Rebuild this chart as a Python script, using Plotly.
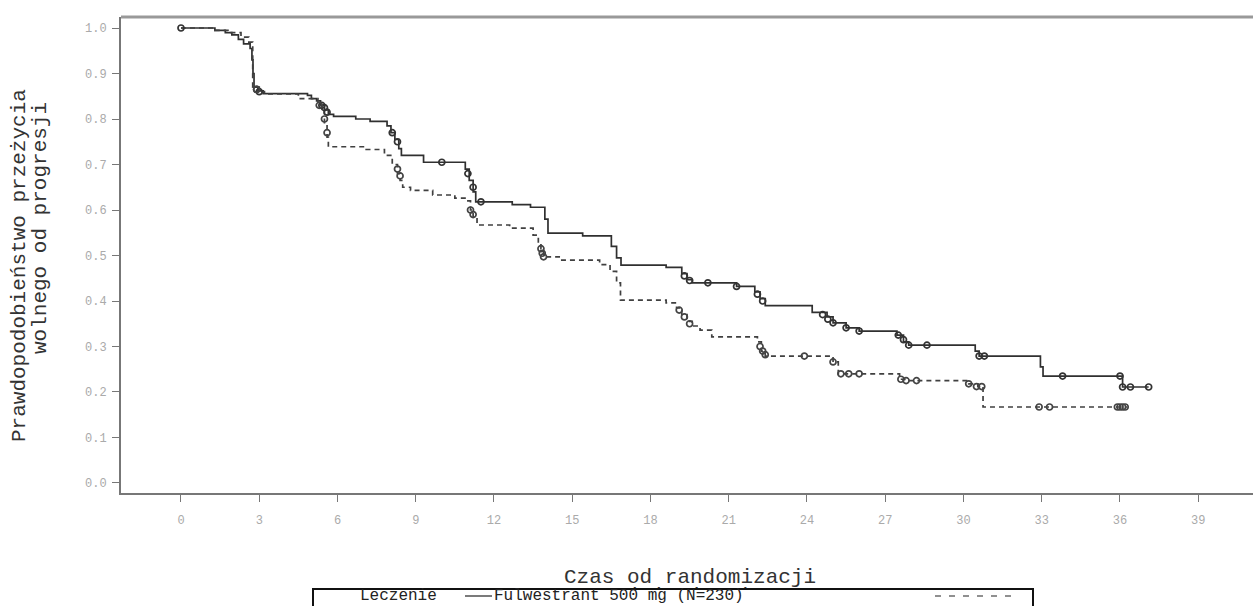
import plotly.graph_objects as go

# ---- Data (digitised Kaplan-Meier step knots) ----
solid_t = [0, 1.3, 1.7, 1.95, 2.2, 2.4, 2.65, 2.72, 2.76, 2.8, 2.95, 3.15, 4.85, 5.0, 5.2, 5.35, 5.5, 5.65,
           5.85, 6.7, 7.25, 7.9, 8.05, 8.2, 8.35, 8.45, 9.3, 10.9, 11.05, 11.2, 11.3, 12.7, 13.4, 13.95,
           14.07, 15.4, 16.5, 16.7, 16.87, 18.6, 19.2, 19.4, 19.6, 21.3, 22.0, 22.2, 22.4, 24.2, 24.77,
           25.0, 25.5, 26.0, 27.45, 27.7, 27.9, 30.45, 30.6, 32.95, 33.05, 36.1, 37.1]
solid_s = [1.0, 0.995, 0.99, 0.985, 0.975, 0.965, 0.955, 0.93, 0.9, 0.87, 0.862, 0.856, 0.852, 0.845, 0.84,
           0.83, 0.82, 0.81, 0.806, 0.80, 0.795, 0.785, 0.77, 0.755, 0.735, 0.72, 0.705, 0.69, 0.665, 0.64,
           0.618, 0.612, 0.606, 0.58, 0.549, 0.543, 0.52, 0.495, 0.479, 0.474, 0.46, 0.447, 0.44, 0.432,
           0.42, 0.405, 0.39, 0.375, 0.365, 0.352, 0.341, 0.334, 0.325, 0.31, 0.303, 0.29, 0.279, 0.255,
           0.235, 0.211, 0.211]
solid_cens_t = [0, 2.9, 3.0, 5.4, 5.5, 5.6, 8.1, 8.3, 10.0, 11.0, 11.2, 11.5, 19.3, 19.5, 20.2, 21.3, 22.1,
                22.3, 24.6, 24.8, 25.0, 25.5, 26.0, 27.5, 27.7, 27.9, 28.6, 30.6, 30.8, 33.8, 36.0, 36.1,
                36.4, 37.1]
solid_cens_s = [1.0, 0.865, 0.86, 0.83, 0.825, 0.815, 0.77, 0.75, 0.705, 0.68, 0.65, 0.618, 0.455, 0.445,
                0.44, 0.432, 0.415, 0.4, 0.37, 0.36, 0.352, 0.341, 0.334, 0.325, 0.315, 0.303, 0.303,
                0.279, 0.279, 0.235, 0.235, 0.211, 0.211, 0.211]

dash_t = [0, 1.3, 1.8, 2.3, 2.6, 2.75, 3.0, 3.2, 4.5, 5.25, 5.4, 5.5, 5.6, 5.65, 7.1, 7.8, 8.1, 8.3, 8.4,
          8.5, 8.8, 9.65, 10.5, 11.0, 11.1, 11.2, 11.35, 12.6, 13.5, 13.7, 13.8, 13.9, 14.5, 16.05, 16.45,
          16.7, 16.85, 18.6, 19.0, 19.2, 19.4, 19.6, 19.9, 20.35, 22.1, 22.25, 22.4, 25.0, 25.2, 27.55,
          27.75, 30.2, 30.55, 30.75, 36.27]
dash_s = [1.0, 0.995, 0.99, 0.98, 0.969, 0.87, 0.86, 0.855, 0.845, 0.83, 0.82, 0.79, 0.76, 0.739, 0.733,
          0.72, 0.70, 0.68, 0.665, 0.65, 0.643, 0.633, 0.626, 0.62, 0.60, 0.585, 0.567, 0.56, 0.545, 0.53,
          0.515, 0.497, 0.49, 0.48, 0.465, 0.44, 0.402, 0.396, 0.385, 0.37, 0.355, 0.345, 0.336, 0.321,
          0.31, 0.29, 0.279, 0.266, 0.24, 0.228, 0.225, 0.218, 0.212, 0.167, 0.167]
dash_cens_t = [2.9, 5.3, 5.5, 5.6, 8.3, 8.4, 11.1, 11.2, 13.8, 13.85, 13.9, 19.1, 19.3, 19.5, 22.2, 22.3,
               22.4, 23.9, 25.0, 25.3, 25.6, 26.0, 27.6, 27.8, 28.2, 30.2, 30.5, 30.7, 32.9, 33.3, 35.9,
               36.0, 36.1, 36.2]
dash_cens_s = [0.865, 0.83, 0.8, 0.77, 0.69, 0.675, 0.6, 0.59, 0.515, 0.505, 0.497, 0.38, 0.365, 0.35,
               0.3, 0.29, 0.282, 0.279, 0.266, 0.24, 0.24, 0.24, 0.228, 0.225, 0.225, 0.218, 0.212, 0.212,
               0.167, 0.167, 0.167, 0.167, 0.167, 0.167]

x_ticks = [0, 3, 6, 9, 12, 15, 18, 21, 24, 27, 30, 33, 36, 39]
y_ticks = [0.0, 0.1, 0.2, 0.3, 0.4, 0.5, 0.6, 0.7, 0.8, 0.9, 1.0]

y_title_1 = "Prawdopodobieństwo przeżycia"
y_title_2 = "wolnego od progresji"
x_title_1 = "Czas od randomizacji"
x_title_2 = "(miesiące)"
legend_title = "Leczenie"
legend_solid = "Fulwestrant 500 mg (N=230)"

FONT = "Liberation Mono, Courier New, monospace"
W, H = 1253, 606
L, T = 121, 17
AXIS_BOTTOM = 493  # pixel row of the x axis line
Y_DOMAIN_LOW = (H - AXIS_BOTTOM) / (H - T)

def px_x(p):
    return (p - L) / (W - L)

def px_y(p):
    return (H - p) / (H - T)

fig = go.Figure()
fig.add_trace(go.Scatter(x=solid_t, y=solid_s, mode="lines", line_shape="hv",
                         line=dict(color="#303030", width=1.7), showlegend=False, hoverinfo="skip"))
fig.add_trace(go.Scatter(x=dash_t, y=dash_s, mode="lines", line_shape="hv",
                         line=dict(color="#404040", width=1.7, dash="5px,4px"), showlegend=False,
                         hoverinfo="skip"))
fig.add_trace(go.Scatter(x=solid_cens_t, y=solid_cens_s, mode="markers",
                         marker=dict(symbol="circle-open", size=6, color="#333333",
                                     line=dict(color="#333333", width=1.7)),
                         showlegend=False, hoverinfo="skip"))
fig.add_trace(go.Scatter(x=dash_cens_t, y=dash_cens_s, mode="markers",
                         marker=dict(symbol="circle-open", size=6, color="#444444",
                                     line=dict(color="#444444", width=1.7)),
                         showlegend=False, hoverinfo="skip"))
# second line of the x title, in a pixel-mapped helper subplot so the legend box can cover it
fig.add_trace(go.Scatter(x=[690], y=[597], mode="text", text=[x_title_2], xaxis="x2", yaxis="y2",
                         textfont=dict(family=FONT, size=21, color="#333333"), cliponaxis=False,
                         showlegend=False, hoverinfo="skip"))

fig.update_layout(
    width=W, height=H,
    margin=dict(l=L, r=0, t=T, b=0, pad=0),
    paper_bgcolor="white", plot_bgcolor="rgba(0,0,0,0)",
    font=dict(family=FONT, color="#333333"),
    xaxis=dict(range=[-2.30, 41.10], tickvals=x_ticks, ticktext=[str(v) for v in x_ticks],
               domain=[0, 1], anchor="y",
               showgrid=False, zeroline=False, showline=True, linecolor="#777777", linewidth=2,
               ticks="outside", ticklen=7, tickcolor="#777777", tickwidth=1,
               tickfont=dict(family=FONT, size=12, color="#aaaaaa"), ticklabelstandoff=8),
    yaxis=dict(range=[-0.022, 1.0242], tickvals=y_ticks, ticktext=[f"{v:.1f}" for v in y_ticks],
               domain=[Y_DOMAIN_LOW, 1], anchor="x",
               showgrid=False, zeroline=False, showline=True, linecolor="#777777", linewidth=2,
               ticks="outside", ticklen=7, tickcolor="#777777", tickwidth=1,
               tickfont=dict(family=FONT, size=12, color="#aaaaaa"), ticklabelstandoff=3),
    xaxis2=dict(range=[L, W], domain=[0, 1], anchor="y2", visible=False, fixedrange=True),
    yaxis2=dict(range=[H, T], domain=[0, 1], anchor="x2", visible=False, fixedrange=True),
)

shapes = []
# top frame line
shapes.append(dict(type="line", xref="paper", yref="paper", x0=0, x1=1, y0=1, y1=1,
                   line=dict(color="#999999", width=3)))
# legend box
shapes.append(dict(type="rect", xref="paper", yref="paper", x0=px_x(313), x1=px_x(1033),
                   y0=px_y(625), y1=px_y(589), fillcolor="white", line=dict(color="#111111", width=2),
                   layer="above"))
shapes.append(dict(type="line", xref="paper", yref="paper", x0=px_x(465), x1=px_x(492),
                   y0=px_y(596), y1=px_y(596), line=dict(color="#222222", width=1.2), layer="above"))
shapes.append(dict(type="line", xref="paper", yref="paper", x0=px_x(935), x1=px_x(1016),
                   y0=px_y(596), y1=px_y(596), line=dict(color="#222222", width=1.2, dash="6px,8px"),
                   layer="above"))
fig.update_layout(shapes=shapes)

ann = []
ann.append(dict(text=y_title_1, xref="paper", yref="paper", x=px_x(19), y=px_y(266), showarrow=False,
                textangle=-90, font=dict(family=FONT, size=21, color="#333333"),
                xanchor="center", yanchor="middle"))
ann.append(dict(text=y_title_2, xref="paper", yref="paper", x=px_x(40), y=px_y(228), showarrow=False,
                textangle=-90, font=dict(family=FONT, size=21, color="#333333"),
                xanchor="center", yanchor="middle"))
ann.append(dict(text=x_title_1, xref="paper", yref="paper", x=px_x(690), y=px_y(577), showarrow=False,
                font=dict(family=FONT, size=21, color="#333333"), xanchor="center", yanchor="middle"))
ann.append(dict(text=legend_title, xref="paper", yref="paper", x=px_x(398), y=px_y(596), showarrow=False,
                font=dict(family=FONT, size=16, color="#222222"), xanchor="center", yanchor="middle"))
ann.append(dict(text=legend_solid, xref="paper", yref="paper", x=px_x(492), y=px_y(596), showarrow=False,
                font=dict(family=FONT, size=16, color="#222222"), xanchor="left", yanchor="middle"))
fig.update_layout(annotations=ann)

fig.write_html("out.html", config={"displayModeBar": False},
               post_script="document.body.style.margin='0px';document.body.style.overflow='hidden';")
